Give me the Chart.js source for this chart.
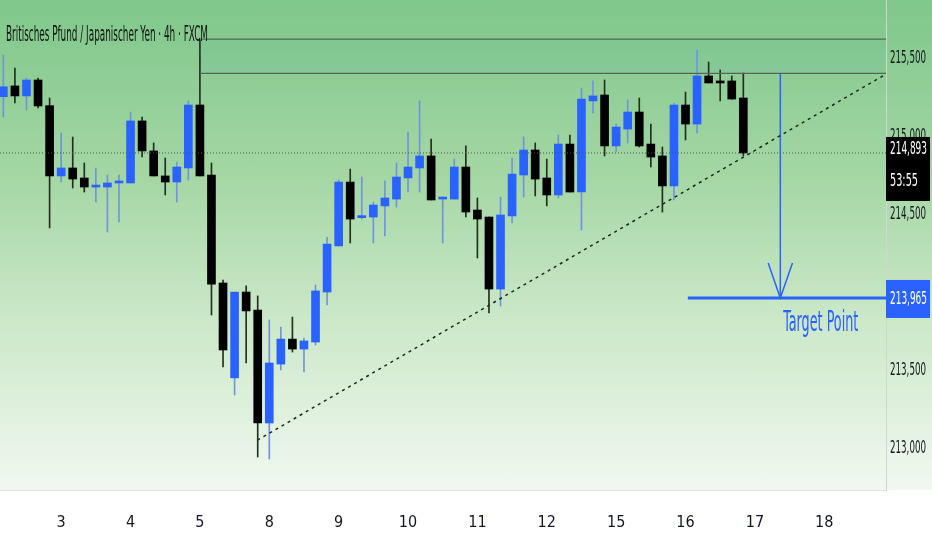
<!DOCTYPE html>
<html>
<head>
<meta charset="utf-8">
<script src="https://cdn.jsdelivr.net/npm/chart.js@4.4.1/dist/chart.umd.min.js"></script>
<style>
  html, body { margin: 0; padding: 0; background: #fff; }
  #wrap { position: relative; width: 932px; height: 550px; }
  #bg { position: absolute; left: 0; top: 0; width: 932px; height: 490px;
        background: linear-gradient(to bottom, #7fc78b 0%, #a3d6a3 35%, #cbe8c8 65%, #f1f8f0 100%); }
  canvas { position: absolute; left: 0; top: 0; }
</style>
</head>
<body>
<div id="wrap">
  <div id="bg"></div>
  <canvas id="chart" width="932" height="550"></canvas>
</div>
<script>
// GBP/JPY 4h candles (index = candle number)
const opens = [215.253, 215.322, 215.258, 215.360, 215.196, 214.746, 214.797, 214.733, 214.675, 214.675,
  214.701, 214.701, 215.098, 214.906, 214.746, 214.707, 214.797, 215.200, 214.752, 214.061,
  213.453, 214.003, 213.888, 213.165, 213.542, 213.702, 213.638, 213.683, 214.003, 214.298,
  214.707, 214.479, 214.483, 214.554, 214.598, 214.733, 214.797, 214.874, 214.598, 214.598,
  214.803, 214.528, 214.483, 214.022, 214.490, 214.752, 214.912, 214.733, 214.624, 214.950,
  214.643, 215.226, 215.264, 214.938, 215.046, 215.155, 214.950, 214.874, 214.682, 215.200,
  215.078, 215.386, 215.354, 215.354, 215.245];
const highs = [215.520, 215.437, 215.373, 215.373, 215.245, 215.021, 214.995, 214.829, 214.797, 214.752,
  214.752, 215.155, 215.123, 214.957, 214.861, 214.835, 215.226, 215.616, 214.829, 214.080,
  214.003, 214.042, 213.978, 213.824, 213.779, 213.843, 213.709, 214.048, 214.355, 214.720,
  214.790, 214.739, 214.579, 214.714, 214.829, 215.027, 215.226, 214.982, 214.611, 214.854,
  214.938, 214.605, 214.483, 214.611, 214.861, 214.995, 214.957, 214.854, 215.008, 215.008,
  215.309, 215.354, 215.360, 215.078, 215.232, 215.245, 215.078, 214.931, 215.213, 215.283,
  215.552, 215.475, 215.424, 215.386, 215.405];
const lows = [215.123, 215.213, 215.168, 215.181, 214.413, 214.707, 214.669, 214.643, 214.579, 214.387,
  214.451, 214.701, 214.867, 214.746, 214.624, 214.579, 214.720, 214.746, 213.856, 213.523,
  213.344, 213.549, 212.947, 212.934, 213.504, 213.619, 213.491, 213.664, 213.920, 214.298,
  214.317, 214.470, 214.317, 214.362, 214.547, 214.643, 214.643, 214.592, 214.317, 214.598,
  214.483, 214.221, 213.869, 213.914, 214.445, 214.611, 214.618, 214.554, 214.605, 214.643,
  214.400, 215.149, 214.874, 214.899, 214.957, 214.931, 214.803, 214.515, 214.592, 214.976,
  215.021, 215.341, 215.226, 215.238, 214.874];
const closes = [215.317, 215.258, 215.360, 215.194, 214.746, 214.797, 214.726, 214.675, 214.682, 214.701,
  214.707, 215.098, 214.906, 214.746, 214.707, 214.803, 215.200, 214.746, 214.054, 213.632,
  214.003, 213.882, 213.165, 213.549, 213.702, 213.638, 213.690, 214.010, 214.310, 214.707,
  214.470, 214.492, 214.560, 214.605, 214.739, 214.803, 214.874, 214.592, 214.611, 214.803,
  214.515, 214.470, 214.022, 214.496, 214.758, 214.912, 214.726, 214.624, 214.950, 214.643,
  215.238, 215.258, 214.938, 215.059, 215.155, 214.938, 214.867, 214.682, 215.200, 215.078,
  215.386, 215.341, 215.341, 215.238, 214.893];

// x axis: candle index of the first candle of each day
const dayTicks = [5, 11, 17, 23, 29, 35, 41, 47, 53, 59, 65, 71];
const dayLabels = ['3', '4', '5', '8', '9', '10', '11', '12', '15', '16', '17', '18'];
const priceTicks = [213.0, 213.5, 214.0, 214.5, 215.0, 215.5];

// drawings on the chart
const resistLevels = [215.621, 215.403];
const zoneStartIdx = 17;
const trendStart = { x: 21.97, y: 213.055 };
const trendEnd = { x: 76.34, y: 215.398 };
const targetPrice = 213.965;
const targetStartIdx = 59.2;
const arrowIdx = 67.2;
const arrowWing = { dx: 1.05, y: 214.189 };
const lastPrice = closes[closes.length - 1];
const countdown = '53:55';

const X_MIN = -0.29, X_MAX = 76.34;
const BLUE = '#2962ff';
const FONT = '"Liberation Sans Narrow", "DejaVu Sans Condensed", "Roboto Condensed", sans-serif';

const fmt = v => v.toFixed(3).replace('.', ',');
const isUp = closes.map((c, i) => c > opens[i]);

function narrowText(ctx, text, x, y, width) {
  const w = ctx.measureText(text).width;
  ctx.save();
  ctx.translate(x, y);
  ctx.scale(width / w, 1);
  ctx.fillText(text, 0, 0);
  ctx.restore();
}

const overlay = {
  id: 'overlay',
  beforeDatasetsDraw(chart) {
    const { ctx, scales: { x, y }, chartArea } = chart;
    // faint band between the two resistance lines
    ctx.save();
    ctx.fillStyle = 'rgba(40, 150, 170, 0.07)';
    const x0 = x.getPixelForValue(zoneStartIdx);
    const y0 = y.getPixelForValue(resistLevels[0]);
    const y1 = y.getPixelForValue(resistLevels[1]);
    ctx.fillRect(x0, y0, chartArea.right - x0, y1 - y0);
    ctx.restore();
  },
  afterDraw(chart) {
    const { ctx, scales: { x, y }, chartArea } = chart;
    ctx.save();
    ctx.textBaseline = 'middle';

    // price axis labels (condensed)
    ctx.fillStyle = '#131722';
    ctx.font = '18px ' + FONT;
    y.ticks.forEach(t => narrowText(ctx, fmt(t.value), chartArea.right + 4, y.getPixelForValue(t.value), 36));

    // title
    ctx.fillStyle = '#101510';
    ctx.font = '500 22px ' + FONT;
    narrowText(ctx, 'Britisches Pfund / Japanischer Yen · 4h · FXCM', 6, 35, 202);

    // target text
    ctx.fillStyle = BLUE;
    ctx.font = '28px ' + FONT;
    narrowText(ctx, 'Target Point', x.getPixelForValue(arrowIdx) + 3, y.getPixelForValue(targetPrice) + 26, 75);

    // last price label
    const right = chart.width;
    const bx = chartArea.right;
    const py = y.getPixelForValue(lastPrice);
    ctx.fillStyle = '#000';
    ctx.fillRect(bx, py - 16, right - bx - 2, 64);
    ctx.fillStyle = '#fff';
    ctx.font = '18px ' + FONT;
    narrowText(ctx, fmt(lastPrice), bx + 4, py - 4, 37);
    narrowText(ctx, countdown, bx + 4, py + 28, 28);

    // target price label
    const ty = y.getPixelForValue(targetPrice);
    ctx.fillStyle = BLUE;
    ctx.fillRect(bx, ty - 18, right - bx - 2, 38);
    ctx.fillStyle = '#fff';
    narrowText(ctx, fmt(targetPrice), bx + 4, ty + 1, 37);
    ctx.restore();
  }
};

const idx = opens.map((_, i) => i);
const line = (pts, color, width, dash) => ({
  type: 'line', data: pts, borderColor: color, borderWidth: width, borderDash: dash || [],
  pointRadius: 0, fill: false, tension: 0, order: 0
});
const noPad = s => { s.paddingTop = 0; s.paddingBottom = 0; s.paddingLeft = 0; s.paddingRight = 0; };

new Chart(document.getElementById('chart'), {
  type: 'bar',
  data: {
    datasets: [
      {
        label: 'wicks',
        data: idx.map(i => ({ x: i, y: [lows[i], highs[i]] })),
        backgroundColor: idx.map(i => isUp[i] ? '#6f96dc' : '#22301f'),
        barThickness: 1,
        grouped: false,
        order: 2
      },
      {
        label: 'bodies',
        data: idx.map(i => ({ x: i, y: [opens[i], closes[i]] })),
        backgroundColor: idx.map(i => isUp[i] ? BLUE : '#000'),
        barThickness: 8,
        minBarLength: 2,
        grouped: false,
        order: 1
      },
      line([{ x: X_MIN, y: lastPrice }, { x: X_MAX, y: lastPrice }], '#4b544b', 1, [1, 2]),
      line([{ x: zoneStartIdx, y: resistLevels[0] }, { x: X_MAX, y: resistLevels[0] }], '#56655a', 1.2),
      line([{ x: zoneStartIdx, y: resistLevels[1] }, { x: X_MAX, y: resistLevels[1] }], '#56655a', 1.2),
      line([trendStart, trendEnd], '#1c2a1c', 1.5, [3, 4]),
      line([{ x: targetStartIdx, y: targetPrice }, { x: X_MAX, y: targetPrice }], BLUE, 3),
      line([{ x: arrowIdx, y: resistLevels[1] }, { x: arrowIdx, y: targetPrice }], BLUE, 1.5),
      line([{ x: arrowIdx - arrowWing.dx, y: arrowWing.y }, { x: arrowIdx, y: targetPrice },
            { x: arrowIdx + arrowWing.dx, y: arrowWing.y }], BLUE, 1.5)
    ]
  },
  options: {
    responsive: false,
    animation: false,
    layout: { padding: 0 },
    plugins: { legend: { display: false }, tooltip: { enabled: false } },
    scales: {
      x: {
        type: 'linear',
        min: X_MIN,
        max: X_MAX,
        offset: false,
        grid: { display: false, drawTicks: false },
        border: { display: true, color: '#dfe3df' },
        afterBuildTicks: s => { s.ticks = dayTicks.map(v => ({ value: v })); },
        afterFit: s => { s.height = 60; noPad(s); },
        ticks: {
          autoSkip: false,
          maxRotation: 0,
          padding: 23,
          color: '#131722',
          font: { family: FONT, size: 16 },
          callback: v => dayLabels[dayTicks.indexOf(v)]
        }
      },
      y: {
        type: 'linear',
        position: 'right',
        min: 212.736,
        max: 215.872,
        grid: { display: false, drawTicks: false },
        border: { display: true, color: '#cfd8cf' },
        afterBuildTicks: s => { s.ticks = priceTicks.map(v => ({ value: v })); },
        afterFit: s => { s.width = 46; noPad(s); },
        ticks: { display: false }
      }
    }
  },
  plugins: [overlay]
});
</script>
</body>
</html>
